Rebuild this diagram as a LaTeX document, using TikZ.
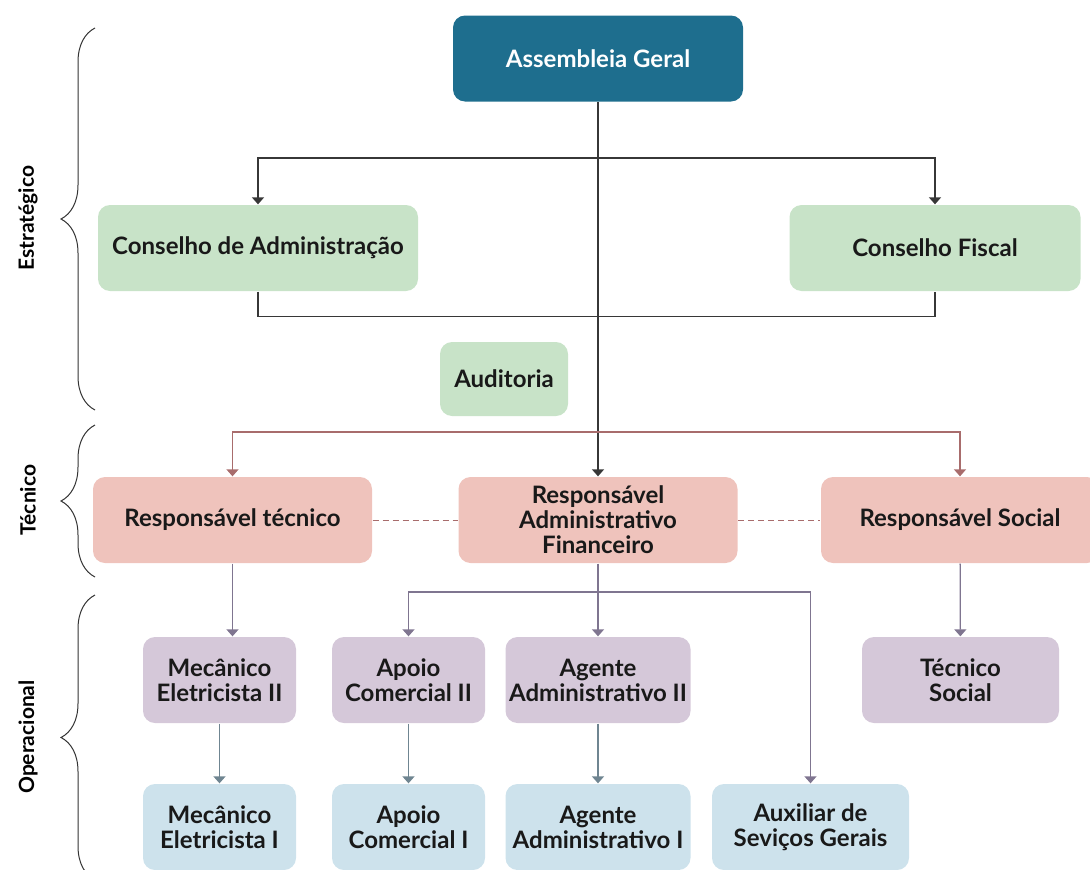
\documentclass[tikz,border=0pt]{standalone}
\usepackage{fontspec}
\setmainfont{Lato}
\usetikzlibrary{arrows.meta,decorations.pathreplacing}

\definecolor{topblue}{RGB}{30,110,142}
\definecolor{stratgreen}{RGB}{200,227,200}
\definecolor{tecpink}{RGB}{239,195,188}
\definecolor{oplilac}{RGB}{213,200,217}
\definecolor{opblue}{RGB}{205,226,236}
\definecolor{darkline}{RGB}{55,55,55}
\definecolor{redline}{RGB}{168,108,108}
\definecolor{lilacline}{RGB}{127,117,144}
\definecolor{blueline}{RGB}{111,133,145}

\begin{document}
\begin{tikzpicture}[x=1pt,y=-1pt,>={Triangle[width=12pt,length=7pt]},line width=1.3pt,
                    font=\bfseries\fontsize{24}{25}\selectfont]
  \tikzstyle{box}=[rounded corners=12pt,align=center,text=black!90,minimum height=86pt,inner sep=1pt]
  \tikzstyle{level}=[rotate=90,font=\bfseries\fontsize{21}{24}\selectfont]
  \tikzstyle{lvlbrace}=[decorate,decoration={brace,amplitude=34pt},line width=1pt,black!80]
\useasboundingbox (0,0) rectangle (1090,870);

% strategic
\node [box,fill=topblue,text=white,minimum width=290pt] (ag) at (598,58.5) {Assembleia Geral};
\node [box,fill=stratgreen,minimum width=320pt] (ca) at (258,248) {Conselho de Administração};
\node [box,fill=stratgreen,minimum width=291pt] (cf) at (935,248) {Conselho Fiscal};
\node [box,fill=stratgreen,minimum width=128pt,minimum height=74pt] (aud) at (504,379) {Auditoria};

% technical
\node [box,fill=tecpink,minimum width=279pt] (rt) at (232.5,520) {Responsável técnico};
\node [box,fill=tecpink,minimum width=279pt] (ra) at (598,520) {Responsável\\Administrativo\\Financeiro};
\node [box,fill=tecpink,minimum width=278pt] (rs) at (960,520) {Responsável Social};

% operational
\node [box,fill=oplilac,minimum width=153pt] (m2) at (219.5,680) {Mecânico\\Eletricista II};
\node [box,fill=oplilac,minimum width=153pt] (a2) at (408.5,680) {Apoio\\Comercial II};
\node [box,fill=oplilac,minimum width=185pt] (g2) at (598,680) {Agente\\Administrativo II};
\node [box,fill=oplilac,minimum width=197pt] (ts) at (960.5,680) {Técnico\\Social};
\node [box,fill=opblue,minimum width=153pt] (m1) at (219.5,827) {Mecânico\\Eletricista I};
\node [box,fill=opblue,minimum width=153pt] (a1) at (408.5,827) {Apoio\\Comercial I};
\node [box,fill=opblue,minimum width=185pt] (g1) at (598,827) {Agente\\Administrativo I};
\node [box,fill=opblue,minimum width=197pt] (ax) at (810.5,827) {Auxiliar de\\Seviços Gerais};

\coordinate (j1) at (598,158);
\coordinate (j2) at (598,432);
\coordinate (j3) at (598,592);

\draw [->,darkline] (ag) -- (ra);
\draw [->,darkline] (j1) -| (ca.north);
\draw [->,darkline] (j1) -| (cf.north);
\draw [darkline] (ca.south) -- ++(0,25) -| (cf.south);

\draw [->,redline] (j2) -| (rt.north);
\draw [->,redline] (j2) -| (rs.north);
\draw [redline,dashed,dash pattern=on 6pt off 4pt,line width=1pt] (rt) -- (ra);
\draw [redline,dashed,dash pattern=on 6pt off 4pt,line width=1pt] (ra) -- (rs);

\draw [->,lilacline] (rt.south) -- (rt.south |- m2.north);
\draw [->,lilacline] (ra) -- (g2);
\draw [->,lilacline] (j3) -| (a2.north);
\draw [->,lilacline] (j3) -| (ax.north);
\draw [->,lilacline] (rs) -- (ts);

\draw [->,blueline] (m2) -- (m1);
\draw [->,blueline] (a2) -- (a1);
\draw [->,blueline] (g2) -- (g1);

% levels
\draw [lvlbrace] (95,410) -- (95,28);
\draw [lvlbrace] (95,577) -- (95,425);
\draw [lvlbrace] (95,880) -- (95,595);
\node [level] (est) at (28,218) {Estratégico};
\node [level] (tec) at (28,500) {Técnico};
\node [level] (ope) at (28,737) {Operacional};

\end{tikzpicture}
\end{document}
